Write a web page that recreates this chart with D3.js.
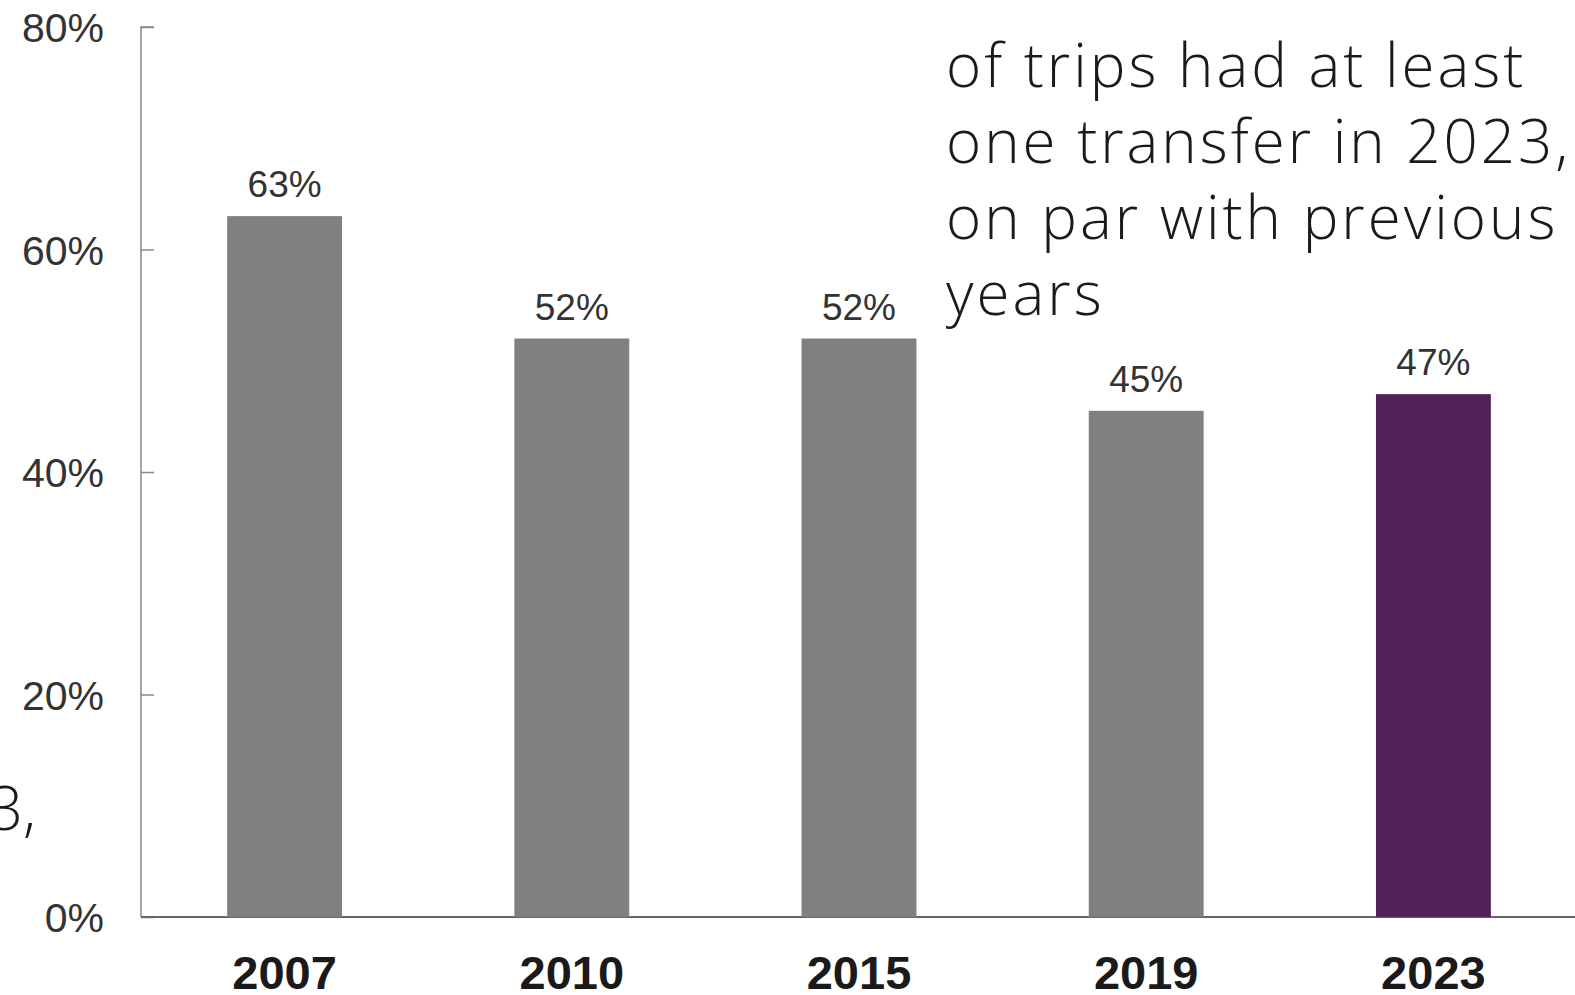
<!DOCTYPE html>
<html>
<head>
<meta charset="utf-8">
<script src="https://cdn.jsdelivr.net/npm/d3@7"></script>
<style>
  body { margin: 0; background: #fff; overflow: hidden; }
</style>
</head>
<body>
<div id="chart"></div>
<script>
const years = ['2007', '2010', '2015', '2019', '2023']
const shares = [63, 52, 52, 45.5, 47]
const shareLabels = ['63%', '52%', '52%', '45%', '47%']
const yTicks = [0, 20, 40, 60, 80]
const noteLines = ['of trips had at least', 'one transfer in 2023,', 'on par with previous', 'years']

const width = 1575
const height = 995
const margin = { top: 27, bottom: 78, left: 141, right: 0 }
const innerHeight = height - margin.top - margin.bottom

const svg = d3.select('#chart').append('svg')
  .attr('width', width)
  .attr('height', height)

const xScale = d3.scaleBand()
  .domain(years)
  .range([margin.left, margin.left + 1436])
  .paddingInner(0.6)
  .paddingOuter(0.3)

const yScale = d3.scaleLinear()
  .domain([0, 80])
  .range([margin.top + innerHeight, margin.top])

// y axis, ticks point into the plot
const yAxis = d3.axisRight(yScale)
  .tickValues(yTicks)
  .tickSize(13)
  .tickFormat(d => d + '%')
const yAxisGroup = svg.append('g')
  .attr('transform', `translate(${margin.left},0)`)
  .call(yAxis)
yAxisGroup.select('.domain').attr('stroke', '#888').attr('stroke-width', 1.5)
  .attr('d', `M13,${yScale(80)}H0V${yScale(0)}`)
yAxisGroup.selectAll('.tick line').attr('stroke', '#888').attr('stroke-width', 1.5)
yAxisGroup.selectAll('.tick text')
  .attr('x', -37)
  .attr('dy', '0.36em')
  .attr('text-anchor', 'end')
  .attr('fill', '#333')
  .style('font-family', '"Liberation Sans", Arial, sans-serif')
  .style('font-size', '41px')

// x axis
svg.append('line')
  .attr('x1', margin.left)
  .attr('x2', width)
  .attr('y1', yScale(0))
  .attr('y2', yScale(0))
  .attr('stroke', '#666')
  .attr('stroke-width', 2)

svg.append('g').selectAll('text')
  .data(years)
  .enter()
  .append('text')
  .text(d => d)
  .attr('x', d => xScale(d) + xScale.bandwidth() / 2)
  .attr('y', 989)
  .attr('text-anchor', 'middle')
  .attr('fill', '#1a1a1a')
  .style('font-family', '"Liberation Sans", Arial, sans-serif')
  .style('font-weight', 'bold')
  .style('font-size', '47px')

// bars
svg.append('g').selectAll('rect')
  .data(shares)
  .enter()
  .append('rect')
  .attr('x', (d, i) => xScale(years[i]))
  .attr('y', d => yScale(d))
  .attr('width', xScale.bandwidth())
  .attr('height', d => yScale(0) - yScale(d))
  .attr('fill', (d, i) => i === years.length - 1 ? '#512257' : '#808080')

// value labels
svg.append('g').selectAll('text')
  .data(shares)
  .enter()
  .append('text')
  .text((d, i) => shareLabels[i])
  .attr('x', (d, i) => xScale(years[i]) + xScale.bandwidth() / 2)
  .attr('y', d => yScale(d) - 19)
  .attr('text-anchor', 'middle')
  .attr('fill', '#333')
  .style('font-family', '"Liberation Sans", Arial, sans-serif')
  .style('font-size', '37px')

// annotation
const note = svg.append('text')
  .attr('fill', '#1a1a1a')
  .style('font-family', '"Open Sans", Lato, sans-serif')
  .style('font-weight', 300)
  .style('font-size', '60px')
  .style('letter-spacing', '3px')
note.selectAll('tspan')
  .data(noteLines)
  .enter()
  .append('tspan')
  .text(d => d)
  .attr('x', 946)
  .attr('y', (d, i) => 87 + i * 76)

// clipped text from neighbouring element
svg.append('text')
  .text('3,')
  .attr('x', 36)
  .attr('y', 830)
  .attr('text-anchor', 'end')
  .attr('fill', '#1a1a1a')
  .style('font-family', '"Open Sans", Lato, sans-serif')
  .style('font-weight', 300)
  .style('font-size', '60px')
</script>
</body>
</html>
